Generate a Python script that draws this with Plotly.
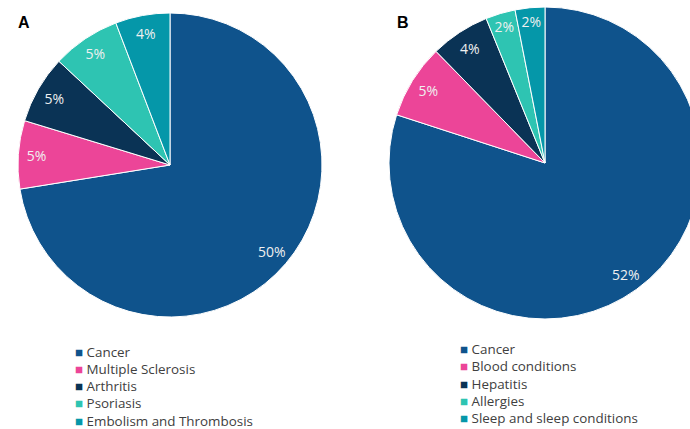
import plotly.graph_objects as go

# Panel A
labels_a = ["Cancer", "Multiple Sclerosis", "Arthritis", "Psoriasis", "Embolism and Thrombosis"]
values_a = [50, 5, 5, 5, 4]

# Panel B
labels_b = ["Cancer", "Blood conditions", "Hepatitis", "Allergies", "Sleep and sleep conditions"]
values_b = [52, 5, 4, 2, 2]

colors = ["#0F538C", "#EC4598", "#0A3355", "#2EC4B2", "#0597A9"]

W, H = 702, 429
FONT = "Open Sans"


def px_domain(x0, x1, y0, y1):
    return dict(x=[x0 / W, x1 / W], y=[1 - y1 / H, 1 - y0 / H])


dom_a = px_domain(18, 322, 13, 317)
dom_b = px_domain(389, 701, 7, 319)

fig = go.Figure()


def add_panel(labels, values, domain):
    # filled pie
    fig.add_trace(go.Pie(
        labels=labels, values=values, domain=domain, sort=False,
        direction="clockwise", rotation=0,
        marker=dict(colors=colors, line=dict(color="white", width=1)),
        textinfo="none", hoverinfo="label+value", showlegend=False,
    ))
    # transparent ring carrying the value labels near the rim
    fig.add_trace(go.Pie(
        labels=labels, values=values, domain=domain, sort=False,
        direction="clockwise", rotation=0, hole=0.76,
        marker=dict(colors=["rgba(0,0,0,0)"] * len(values), line=dict(width=0)),
        text=[f"{v}%" for v in values], textinfo="text",
        textposition="inside", insidetextorientation="horizontal",
        insidetextfont=dict(family=FONT, size=14, color="#F0F0F0"),
        hoverinfo="skip", showlegend=False,
    ))


add_panel(labels_a, values_a, dom_a)
add_panel(labels_b, values_b, dom_b)


def legend_block(labels, x_px, y_px, dy=17.3):
    # colour key listed under each pie
    items = []
    for i, (lab, col) in enumerate(zip(labels, colors)):
        items.append(dict(
            text=f"<span style='color:{col}'>■</span> {lab}",
            x=x_px / W, y=1 - (y_px + i * dy) / H,
            xref="paper", yref="paper", xanchor="left", yanchor="middle",
            showarrow=False, align="left", borderpad=0,
            font=dict(family=FONT, size=13.4, color="#404040"),
        ))
    return items


panel_titles = [
    dict(text="<b>A</b>", x=16 / W, y=1 - 22 / H, xref="paper", yref="paper",
         xanchor="left", yanchor="middle", showarrow=False,
         font=dict(family="Liberation Sans", size=16, color="black")),
    dict(text="<b>B</b>", x=395 / W, y=1 - 22 / H, xref="paper", yref="paper",
         xanchor="left", yanchor="middle", showarrow=False,
         font=dict(family="Liberation Sans", size=16, color="black")),
]

fig.update_layout(
    width=W, height=H,
    margin=dict(l=0, r=0, t=0, b=0),
    paper_bgcolor="white", plot_bgcolor="white",
    annotations=panel_titles + legend_block(labels_a, 74, 351.5) + legend_block(labels_b, 459, 349),
)

fig.write_html("out.html")
